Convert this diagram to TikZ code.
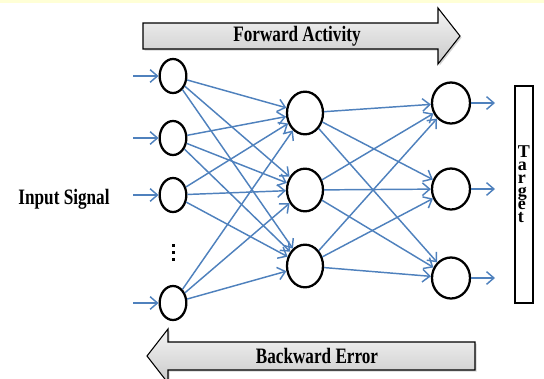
\documentclass[tikz,border=0pt]{standalone}
\usepackage{fontspec}
\setmainfont{Liberation Serif}
\newfontfamily\condfont[FakeStretch=0.78]{Liberation Serif}
\usetikzlibrary{arrows.meta,shadows,shapes.geometric}
\definecolor{netblue}{RGB}{79,129,189}
\definecolor{topband}{RGB}{255,255,214}
\begin{document}
\begin{tikzpicture}[x=0.75pt,y=-0.75pt,
  neuron/.style={draw=black, line width=1.7pt, ellipse, inner sep=0pt, fill=white},
  innode/.style={neuron, minimum width=20pt, minimum height=25.5pt},
  hidnode/.style={neuron, minimum width=27pt, minimum height=32pt},
  outnode/.style={neuron, minimum width=28.5pt, minimum height=30.75pt},
  conn/.style={draw=netblue, line width=1.1pt, -{Straight Barb[length=5.5pt,width=9.5pt]}},
  bigarrow/.style={draw=black, line width=0.8pt, top color=gray!8, bottom color=gray!42,
     drop shadow={opacity=0.35, shadow xshift=1.2pt, shadow yshift=-1.2pt}},
  lbl/.style={font=\condfont\bfseries\fontsize{16.5}{18}\selectfont, inner sep=0pt},
  tletter/.style={anchor=base west, inner sep=0pt, font=\bfseries\fontsize{13.5}{14}\selectfont}
]
\useasboundingbox (0,0) rectangle (544,379);
\fill[topband] (0,0) rectangle (544,3);

% big arrows
\path[bigarrow] (143,23) -- (438,23) -- (438,8) -- (460,36) -- (438,64) -- (438,49) -- (143,49) -- cycle;
\node[lbl] (fwd) at (297,36) {Forward Activity};
\path[bigarrow] (475,342) -- (168,342) -- (168,329) -- (147,356) -- (168,383) -- (168,370) -- (475,370) -- cycle;
\node[lbl] (bwd) at (317,356) {Backward Error};

% label
\node[lbl] (insig) at (64,199) {Input Signal};

% nodes
\node[innode] (i1) at (173,76) {};
\node[innode] (i2) at (173,138) {};
\node[innode] (i3) at (173,195) {};
\node[innode] (i4) at (173,303) {};
\node[hidnode] (h1) at (305,113) {};
\node[hidnode] (h2) at (305,190) {};
\node[hidnode] (h3) at (305,266) {};
\node[outnode] (o1) at (451,103) {};
\node[outnode] (o2) at (451,189) {};
\node[outnode] (o3) at (451,278) {};

% dots
\foreach \yy in {245,252,259} \fill (171.5,\yy-1.5) rectangle (174.5,\yy+1.5);

% input arrows
\foreach \i/\yy in {1/76,2/138,3/195,4/303}{
  \coordinate (s\i) at (133,\yy);
  \draw[conn] (s\i) -- (i\i);
}
% input to hidden
\foreach \i in {1,2,3,4}{
  \foreach \j in {1,2,3}{
    \draw[conn] (i\i) -- (h\j);
  }
}
% hidden to output
\foreach \i in {1,2,3}{
  \foreach \j in {1,2,3}{
    \draw[conn] (h\i) -- (o\j);
  }
}
% output arrows
\foreach \i/\yy in {1/103,2/189,3/278}{
  \coordinate (t\i) at (495,\yy);
  \draw[conn] (o\i) -- (t\i);
}

% target box
\node[draw=black, line width=0.8pt, minimum width=13.5pt, minimum height=162.75pt, inner sep=0pt] (tbox) at (524,194.5) {};
\node[tletter] (tg1) at (517.5,157) {T};
\node[tletter] (tg2) at (517.5,170) {a};
\node[tletter] (tg3) at (517.5,183) {r};
\node[tletter] (tg4) at (517.5,196) {g};
\node[tletter] (tg5) at (517.5,209.5) {e};
\node[tletter] (tg6) at (517.5,222.5) {t};
\end{tikzpicture}
\end{document}
